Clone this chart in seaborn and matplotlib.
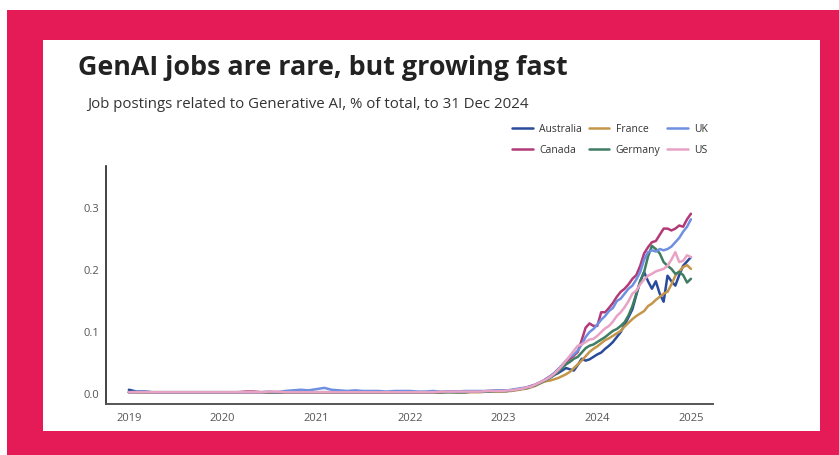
import pandas as pd
import numpy as np
import seaborn as sns
import matplotlib.pyplot as plt
from matplotlib.patches import Rectangle

# -----------------------------------------------------------------------------
# DATOS (leídos a ojo del gráfico de referencia)
# -----------------------------------------------------------------------------

countries = ["Australia", "Canada", "France", "Germany", "UK", "US"]
colors = ["#2a4b9b", "#b23a78", "#c4964a", "#3f7d62", "#6f8fe0", "#e8a2c4"]

# 2019-2022, mensual (48 valores, % del total)
australia_early = [0.005, 0.002, 0.002, 0.001, 0.001, 0.001, 0.001, 0.001, 0.001, 0.001, 0.001, 0.001,
                   0.001, 0.001, 0.001, 0.001, 0.001, 0.001, 0.001, 0.001, 0.001, 0.001, 0.001, 0.001,
                   0.001, 0.001, 0.001, 0.001, 0.001, 0.001, 0.001, 0.001, 0.001, 0.001, 0.001, 0.001,
                   0.001, 0.001, 0.001, 0.001, 0.001, 0.002, 0.001, 0.001, 0.002, 0.002, 0.002, 0.003]
canada_early = [0.001, 0.001, 0.001, 0.001, 0.001, 0.001, 0.001, 0.001, 0.001, 0.001, 0.001, 0.001,
                0.001, 0.001, 0.001, 0.002, 0.002, 0.001, 0.001, 0.001, 0.001, 0.001, 0.001, 0.001,
                0.001, 0.001, 0.001, 0.001, 0.001, 0.001, 0.001, 0.001, 0.001, 0.001, 0.001, 0.001,
                0.001, 0.001, 0.001, 0.001, 0.001, 0.002, 0.002, 0.002, 0.002, 0.002, 0.003, 0.003]
france_early = [0.001, 0.001, 0.001, 0.001, 0.001, 0.001, 0.001, 0.001, 0.001, 0.001, 0.001, 0.001,
                0.001, 0.001, 0.001, 0.001, 0.001, 0.001, 0.001, 0.001, 0.001, 0.001, 0.001, 0.001,
                0.001, 0.001, 0.001, 0.001, 0.001, 0.001, 0.001, 0.001, 0.001, 0.001, 0.001, 0.001,
                0.001, 0.001, 0.001, 0.001, 0.001, 0.001, 0.001, 0.001, 0.001, 0.001, 0.002, 0.002]
germany_early = [0.001, 0.001, 0.001, 0.001, 0.001, 0.001, 0.001, 0.001, 0.001, 0.001, 0.001, 0.001,
                 0.001, 0.001, 0.001, 0.001, 0.001, 0.001, 0.001, 0.001, 0.001, 0.001, 0.001, 0.001,
                 0.001, 0.001, 0.001, 0.001, 0.001, 0.001, 0.001, 0.001, 0.001, 0.001, 0.001, 0.001,
                 0.001, 0.001, 0.001, 0.001, 0.001, 0.001, 0.001, 0.001, 0.002, 0.002, 0.002, 0.003]
uk_early = [0.001, 0.002, 0.002, 0.001, 0.001, 0.001, 0.001, 0.001, 0.001, 0.001, 0.001, 0.001,
            0.001, 0.001, 0.001, 0.001, 0.001, 0.001, 0.002, 0.001, 0.003, 0.004, 0.005, 0.004,
            0.006, 0.008, 0.005, 0.004, 0.003, 0.004, 0.003, 0.003, 0.003, 0.002, 0.003, 0.003,
            0.003, 0.002, 0.002, 0.003, 0.002, 0.002, 0.002, 0.003, 0.003, 0.003, 0.003, 0.004]
us_early = [0.001, 0.001, 0.001, 0.001, 0.001, 0.001, 0.001, 0.001, 0.001, 0.001, 0.001, 0.001,
            0.001, 0.001, 0.001, 0.001, 0.001, 0.001, 0.002, 0.002, 0.001, 0.001, 0.001, 0.001,
            0.001, 0.001, 0.001, 0.001, 0.001, 0.001, 0.001, 0.001, 0.001, 0.001, 0.001, 0.001,
            0.001, 0.001, 0.001, 0.001, 0.002, 0.002, 0.002, 0.002, 0.002, 0.002, 0.003, 0.003]

# 2023-2024, quincenal (49 valores)
australia_late = [0.003, 0.003, 0.004, 0.005, 0.006, 0.007, 0.008, 0.010, 0.012, 0.015,
                  0.018, 0.021, 0.025, 0.029, 0.032, 0.036, 0.040, 0.038, 0.036, 0.045,
                  0.055, 0.052, 0.054, 0.058, 0.062, 0.065, 0.071, 0.076, 0.082, 0.090,
                  0.098, 0.110, 0.122, 0.135, 0.158, 0.180, 0.195, 0.180, 0.168, 0.180,
                  0.160, 0.147, 0.189, 0.180, 0.173, 0.190, 0.205, 0.212, 0.219]
canada_late = [0.003, 0.004, 0.004, 0.005, 0.006, 0.007, 0.009, 0.011, 0.013, 0.016,
               0.019, 0.023, 0.027, 0.032, 0.038, 0.044, 0.050, 0.055, 0.060, 0.066,
               0.085, 0.105, 0.112, 0.108, 0.108, 0.130, 0.130, 0.137, 0.145, 0.155,
               0.163, 0.168, 0.175, 0.184, 0.190, 0.205, 0.225, 0.235, 0.243, 0.245,
               0.255, 0.265, 0.265, 0.262, 0.265, 0.270, 0.268, 0.280, 0.289]
france_late = [0.002, 0.003, 0.003, 0.004, 0.005, 0.006, 0.007, 0.009, 0.011, 0.014,
               0.017, 0.019, 0.020, 0.022, 0.024, 0.027, 0.030, 0.034, 0.040, 0.046,
               0.052, 0.059, 0.066, 0.071, 0.075, 0.080, 0.085, 0.088, 0.092, 0.096,
               0.100, 0.107, 0.113, 0.119, 0.124, 0.128, 0.132, 0.140, 0.144, 0.150,
               0.155, 0.160, 0.163, 0.175, 0.189, 0.196, 0.203, 0.206, 0.200]
germany_late = [0.003, 0.003, 0.004, 0.005, 0.006, 0.007, 0.008, 0.010, 0.012, 0.015,
                0.018, 0.021, 0.025, 0.029, 0.034, 0.040, 0.046, 0.050, 0.055, 0.058,
                0.065, 0.072, 0.076, 0.078, 0.082, 0.086, 0.090, 0.095, 0.100, 0.103,
                0.108, 0.114, 0.125, 0.140, 0.160, 0.180, 0.195, 0.220, 0.237, 0.232,
                0.225, 0.211, 0.205, 0.200, 0.192, 0.195, 0.190, 0.178, 0.184]
uk_late = [0.004, 0.004, 0.005, 0.006, 0.007, 0.008, 0.009, 0.011, 0.013, 0.016,
           0.019, 0.023, 0.027, 0.032, 0.038, 0.045, 0.052, 0.058, 0.062, 0.068,
           0.078, 0.090, 0.098, 0.103, 0.110, 0.118, 0.124, 0.132, 0.137, 0.148,
           0.152, 0.160, 0.168, 0.173, 0.183, 0.195, 0.215, 0.227, 0.230, 0.228,
           0.232, 0.230, 0.232, 0.236, 0.243, 0.250, 0.260, 0.268, 0.280]
us_late = [0.003, 0.004, 0.004, 0.005, 0.006, 0.007, 0.009, 0.010, 0.013, 0.016,
           0.019, 0.022, 0.026, 0.031, 0.037, 0.044, 0.052, 0.060, 0.068, 0.076,
           0.078, 0.082, 0.086, 0.087, 0.092, 0.098, 0.104, 0.108, 0.115, 0.124,
           0.130, 0.138, 0.148, 0.160, 0.165, 0.175, 0.183, 0.189, 0.192, 0.196,
           0.198, 0.200, 0.205, 0.215, 0.227, 0.211, 0.213, 0.222, 0.219]

year_ticks = ["2019", "2020", "2021", "2022", "2023", "2024", "2025"]
y_ticks = [0.0, 0.1, 0.2, 0.3]

dates_early = pd.date_range("2019-01-01", "2022-12-01", freq="MS")
dates_late = pd.date_range("2023-01-01", "2024-12-31", periods=49)

early = [australia_early, canada_early, france_early, germany_early, uk_early, us_early]
late = [australia_late, canada_late, france_late, germany_late, uk_late, us_late]

frames = []
for name, e, l in zip(countries, early, late):
    frames.append(pd.DataFrame({
        "date": list(dates_early) + list(dates_late),
        "value": e + l,
        "country": name,
    }))
df = pd.concat(frames, ignore_index=True)

# -----------------------------------------------------------------------------
# FIGURA
# -----------------------------------------------------------------------------

sns.set_style("white")
plt.rcParams["font.family"] = ["Open Sans", "DejaVu Sans"]

fig = plt.figure(figsize=(8.39, 4.56), dpi=100)
fig.patch.set_facecolor("white")

# marco rosa y panel blanco (detrás de los ejes)
fig.patches.append(Rectangle((7 / 839, 0), 1 - 7 / 839, 445 / 456, transform=fig.transFigure,
                             facecolor="#e41b56", edgecolor="none", zorder=-3))
fig.patches.append(Rectangle((43 / 839, 24 / 456), 777 / 839, 391 / 456, transform=fig.transFigure,
                             facecolor="white", edgecolor="none", zorder=-2))

ax = fig.add_axes([106 / 839, 51 / 456, 607 / 839, 238 / 456])
ax.set_facecolor("white")

sns.lineplot(data=df, x="date", y="value", hue="country", hue_order=countries,
             palette=dict(zip(countries, colors)), linewidth=1.8, ax=ax)

ax.set_xlim(pd.Timestamp("2018-10-04"), pd.Timestamp("2025-03-27"))
ax.set_ylim(-0.018, 0.366)
ax.set_xticks([pd.Timestamp(f"{y}-01-01") for y in year_ticks])
ax.set_xticklabels(year_ticks)
ax.set_yticks(y_ticks)
ax.set_yticklabels([f"{v:.1f}" for v in y_ticks])
ax.tick_params(axis="both", length=0, labelsize=8, labelcolor="#555555")
ax.tick_params(axis="x", pad=6)
ax.tick_params(axis="y", pad=5)
ax.set_xlabel("")
ax.set_ylabel("")

for side in ["top", "right"]:
    ax.spines[side].set_visible(False)
ax.spines["left"].set_color("#222222")
ax.spines["bottom"].set_color("#555555")
ax.spines["left"].set_linewidth(1.2)
ax.spines["bottom"].set_linewidth(1.4)

handles, labels = ax.get_legend_handles_labels()
ax.legend(handles, labels, ncol=3, frameon=False, loc="upper right",
          bbox_to_anchor=(717 / 839, 1 - 115 / 456), bbox_transform=fig.transFigure,
          fontsize=7.5, handlelength=2.0, handletextpad=0.6, columnspacing=0.6,
          labelspacing=0.95, labelcolor="#333333")

fig.text(78 / 839, 1 - 68 / 456, "GenAI jobs are rare, but growing fast", fontsize=19.4,
         fontweight="bold", color="#222222", va="center", ha="left")
fig.text(87 / 839, 1 - 104 / 456, "Job postings related to Generative AI, % of total, to 31 Dec 2024",
         fontsize=10.8, color="#333333", va="center", ha="left")

plt.savefig("out.png", dpi=100)
plt.close()
